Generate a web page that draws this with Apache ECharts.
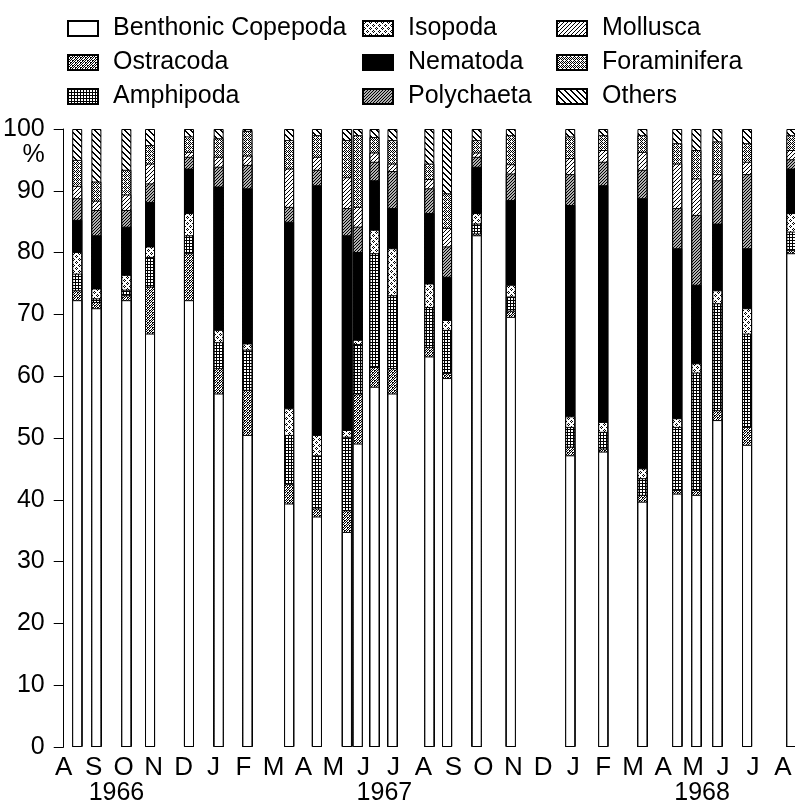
<!DOCTYPE html>
<html>
<head>
<meta charset="utf-8">
<script src="https://cdn.jsdelivr.net/npm/echarts@6/dist/echarts.min.js"></script>
<style>
html,body{margin:0;padding:0;background:#fff;}
#c{width:795px;height:807px;}
</style>
</head>
<body>
<div id="c"></div>
<script>
// ---- data ----
const monthLabels = ['A','S','O','N','D','J','F','M','A','M','J','J','A','S','O','N','D','J','F','M','A','M','J','J','A'];
const yearLabels = ['1966','1967','1968'];
const yearPos = [1.76, 10.7, 21.3];
// sampling dates, in months after the start of the axis (Aug 1966 = 0)
const samplePos = [0.45,1.09,2.09,2.88,4.18,5.17,6.13,7.52,8.45,9.45,9.81,10.37,10.97,12.20,12.79,13.78,14.92,16.90,18.00,19.31,20.47,21.11,21.81,22.80,24.28];

const copepoda     = [72.3,71.0,72.3,66.9,72.3,57.2,50.5,39.4,37.3,34.8,49.1,58.3,57.2,63.2,59.7,82.8,69.6,47.2,47.8,39.7,41.0,40.8,52.9,48.9,79.9];
const ostracoda    = [1.6,1.0,0.8,7.6,7.6,4.1,7.3,3.2,1.3,3.5,8.1,3.2,4.1,1.5,0.8,0.3,1.0,1.4,0.5,1.1,0.6,0.8,1.6,2.9,0.5];
const amphipoda    = [2.7,0.6,0.9,4.8,2.9,4.2,6.5,7.9,8.6,11.9,8.0,18.4,11.8,6.5,7.0,1.6,2.3,3.2,2.7,2.7,10.2,19.0,17.3,15.1,3.0];
const isopoda      = [3.5,1.6,2.4,1.7,3.6,2.0,1.0,4.3,3.3,1.1,0.7,3.8,7.6,3.8,1.6,1.7,1.9,1.7,1.6,1.6,1.4,1.5,2.1,4.1,3.0];
const nematoda     = [5.2,8.6,7.8,7.2,7.2,23.2,25.1,30.2,40.4,31.5,14.2,8.0,6.5,11.4,7.0,7.5,13.7,34.2,38.3,43.7,27.5,12.7,10.8,9.7,7.2];
const polychaeta   = [3.5,4.1,2.7,3.0,1.9,3.2,3.8,2.4,2.5,4.4,4.1,3.0,6.0,4.0,4.9,1.6,4.3,5.0,3.8,4.6,6.5,11.3,7.0,12.0,1.5];
const mollusca     = [2.0,1.5,2.5,3.2,0.8,1.6,1.5,6.2,2.1,5.0,3.2,1.5,1.2,1.5,3.0,0.7,1.5,2.6,1.9,2.9,7.2,5.9,1.0,2.0,1.5];
const foraminifera = [4.2,3.1,4.0,3.0,2.5,3.0,4.0,4.6,3.5,6.0,11.6,2.5,3.8,2.5,5.6,2.0,4.7,3.5,2.4,2.7,3.3,4.6,5.3,3.0,2.4];
const others       = [5.0,8.5,6.6,2.6,1.2,1.5,0.3,1.8,1.0,1.8,1.0,1.3,1.8,5.6,10.4,1.8,1.0,1.2,1.0,1.0,2.3,3.4,2.0,2.3,1.0];

const seriesNames = ['Benthonic Copepoda','Ostracoda','Amphipoda','Isopoda','Nematoda','Polychaeta','Mollusca','Foraminifera','Others'];
const seriesValues = [copepoda,ostracoda,amphipoda,isopoda,nematoda,polychaeta,mollusca,foraminifera,others];

// ---- patterns ----
function tile(w, h, bg, blacks) {
  const c = document.createElement('canvas');
  c.width = w; c.height = h;
  const g = c.getContext('2d');
  g.fillStyle = bg; g.fillRect(0, 0, w, h);
  g.fillStyle = '#000';
  blacks.forEach(p => g.fillRect(p[0], p[1], 1, 1));
  return {image: c, repeat: 'repeat'};
}
function diag(n, dir, thick) {
  const pts = [];
  for (let i = 0; i < n; i++) {
    for (let t = 0; t < thick; t++) {
      const x = dir > 0 ? (n - 1 - i + t) % n : (i + t) % n;
      pts.push([x, i]);
    }
  }
  return pts;
}
const gridPts = [];
for (let i = 0; i < 3; i++) { gridPts.push([i, 0]); if (i) gridPts.push([0, i]); }
const fills = [
  '#ffffff',
  tile(5, 5, '#ffffff', [[0,0],[2,0],[4,1],[1,1],[3,2],[0,2],[2,3],[4,3],[1,4],[3,4],[4,0],[2,2]]),
  tile(3, 3, '#ffffff', gridPts),
  tile(6, 6, '#ffffff', [[1,0],[0,1],[2,1],[1,2],[4,3],[3,4],[5,4],[4,5]]),
  '#000000',
  tile(3, 3, '#b0b0b0', diag(3, 1, 1)),
  tile(4, 4, '#ffffff', diag(4, 1, 1)),
  tile(4, 4, '#ffffff', [[0,0],[2,0],[1,1],[0,2],[2,2],[3,3],[1,3]]),
  tile(6, 6, '#ffffff', diag(6, -1, 2))
];

// ---- build painter-ordered bars (each bar reaches its cumulative top) ----
const cum = [];
seriesValues.forEach((vals, k) => {
  cum.push(vals.map((v, i) => (k ? cum[k - 1][i] : 0) + v));
});

const series = [];
for (let k = seriesNames.length - 1; k >= 0; k--) {
  series.push({
    name: seriesNames[k],
    type: 'bar',
    barWidth: 10,
    barGap: '-100%',
    data: samplePos.map((x, i) => [x, +cum[k][i].toFixed(2)]),
    itemStyle: {color: fills[k], borderColor: '#000', borderWidth: 1},
    emphasis: {disabled: true},
    silent: true
  });
}

const FONT = "'Liberation Sans', Arial, sans-serif";
const legendBase = {
  orient: 'vertical', top: 11, icon: 'rect', itemWidth: 30, itemHeight: 15,
  itemGap: 9, selectedMode: false,
  textStyle: {fontFamily: FONT, fontSize: 25, color: '#000', lineHeight: 24, padding: [0, 0, 0, 10]}
};

const chart = echarts.init(document.getElementById('c'), null, {renderer: 'canvas'});
chart.setOption({
  animation: false,
  backgroundColor: '#fff',
  legend: [
    Object.assign({}, legendBase, {left: 62, data: seriesNames.slice(0, 3)}),
    Object.assign({}, legendBase, {left: 357, data: seriesNames.slice(3, 6)}),
    Object.assign({}, legendBase, {left: 551, data: seriesNames.slice(6, 9)})
  ],
  grid: {left: 62, right: 0, top: 129, bottom: 60, containLabel: false},
  xAxis: {
    type: 'value', min: 0, max: 24.3, interval: 1,
    axisLine: {show: false}, axisTick: {show: false}, splitLine: {show: false},
    axisLabel: {
      fontFamily: FONT, fontSize: 26, color: '#000', margin: 8,
      formatter: v => {
        const r = Math.round(v);
        return Math.abs(v - r) < 1e-6 && r >= 0 && r < monthLabels.length ? monthLabels[r] : '';
      }
    }
  },
  yAxis: {
    type: 'value', min: 0, max: 100, interval: 10,
    axisLine: {show: true, lineStyle: {color: '#000', width: 1}},
    axisTick: {show: true, inside: false, length: 10, lineStyle: {color: '#000', width: 1}},
    splitLine: {show: false},
    axisLabel: {fontFamily: FONT, fontSize: 25, color: '#000', margin: 19}
  },
  series: series
});

// year labels and the % sign, placed through the axes' scales
const graphics = yearLabels.map((t, i) => {
  const p = chart.convertToPixel({gridIndex: 0}, [yearPos[i], 0]);
  return {type: 'text', x: p[0], y: p[1] + 46, style: {text: t, fontFamily: FONT, fontSize: 25, fill: '#000', align: 'center', verticalAlign: 'middle'}};
});
const pTop = chart.convertToPixel({gridIndex: 0}, [0, 100]);
graphics.push({type: 'text', x: pTop[0] - 19, y: pTop[1] + 26, style: {text: '%', fontFamily: FONT, fontSize: 25, fill: '#000', align: 'right', verticalAlign: 'middle'}});
chart.setOption({graphic: graphics});
</script>
</body>
</html>
